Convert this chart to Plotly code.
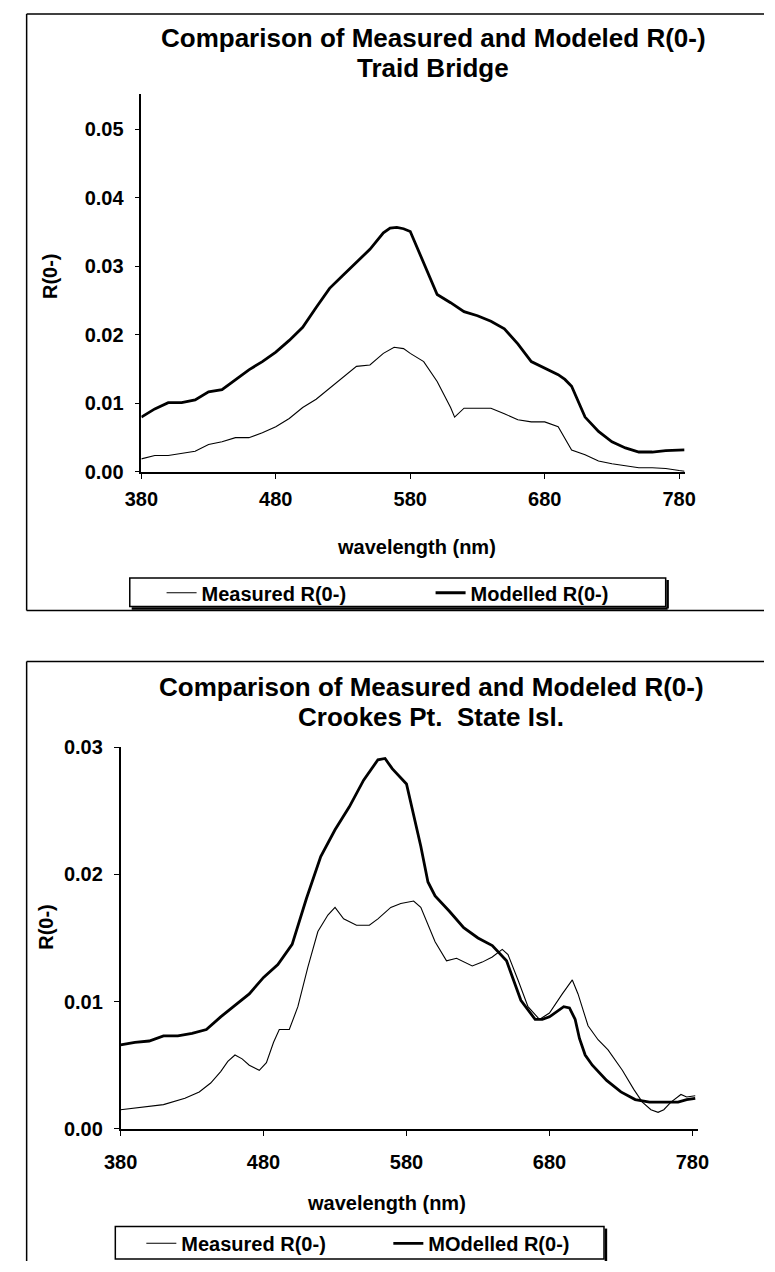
import plotly.graph_objects as go

# ---------------- data ----------------
# Top chart: Traid Bridge
wl_top_meas = [380, 390, 400, 410, 420, 430, 440, 450, 460, 470, 480, 490, 500, 510, 520, 530, 540, 550,
               560, 568, 575, 580, 590, 600, 610, 613, 620, 630, 640, 650, 660, 670, 680, 690, 700, 710,
               720, 730, 740, 750, 760, 770, 780, 784]
top_meas = [0.0019, 0.0024, 0.0024, 0.0027, 0.0030, 0.0040, 0.0044, 0.0050, 0.0050, 0.0057, 0.0066, 0.0078,
            0.0094, 0.0106, 0.0122, 0.0137, 0.0154, 0.0156, 0.0173, 0.0182, 0.0180, 0.0173, 0.0161, 0.0132,
            0.0094, 0.0080, 0.0093, 0.0093, 0.0093, 0.0085, 0.0076, 0.0073, 0.0073, 0.0066, 0.0032, 0.0025,
            0.0016, 0.0012, 0.0009, 0.0006, 0.0006, 0.0005, 0.0002, 0.0001]

wl_top_mod = [380, 390, 400, 410, 420, 430, 440, 450, 460, 470, 480, 490, 500, 510, 520, 530, 540, 550,
              560, 565, 570, 575, 580, 590, 600, 610, 620, 630, 640, 650, 660, 670, 680, 690, 695, 700,
              710, 720, 730, 740, 750, 760, 770, 780, 784]
top_mod = [0.0080, 0.0092, 0.0101, 0.0101, 0.0105, 0.0117, 0.0120, 0.0135, 0.0149, 0.0161, 0.0175, 0.0192,
           0.0211, 0.0240, 0.0268, 0.0287, 0.0306, 0.0325, 0.0349, 0.0356, 0.0357, 0.0355, 0.0351, 0.0304,
           0.0259, 0.0247, 0.0234, 0.0228, 0.0220, 0.0209, 0.0187, 0.0161, 0.0151, 0.0142, 0.0135, 0.0125,
           0.0080, 0.0059, 0.0044, 0.0035, 0.0029, 0.0029, 0.0031, 0.0032, 0.0032]

# Bottom chart: Crookes Pt. State Isl.
wl_bot_meas = [380, 395, 410, 425, 435, 443, 450, 455, 460, 465, 470, 477, 482, 487, 491, 498, 504, 511,
               518, 525, 530, 536, 545, 554, 560, 569, 576, 585, 590, 600, 608, 615, 620, 626, 633, 640,
               647, 651, 658, 665, 673, 680, 689, 696, 700, 707, 714, 721, 731, 739, 745, 751, 756, 760,
               765, 772, 776, 782]
bot_meas = [0.0015, 0.0017, 0.0019, 0.0024, 0.0029, 0.0036, 0.0045, 0.0053, 0.0058, 0.0055, 0.0050, 0.0046,
            0.0052, 0.0068, 0.0078, 0.0078, 0.0096, 0.0127, 0.0155, 0.0168, 0.0174, 0.0165, 0.0160, 0.0160,
            0.0165, 0.0174, 0.0177, 0.0179, 0.0174, 0.0147, 0.0132, 0.0134, 0.0131, 0.0128, 0.0131, 0.0135,
            0.0141, 0.0137, 0.0117, 0.0096, 0.0086, 0.0091, 0.0106, 0.0117, 0.0106, 0.0081, 0.0070, 0.0062,
            0.0046, 0.0031, 0.0021, 0.0015, 0.0013, 0.0015, 0.0021, 0.0027, 0.0025, 0.0026]

wl_bot_mod = [380, 390, 400, 410, 420, 430, 440, 450, 460, 470, 480, 490, 500, 510, 520, 530, 540, 550,
              560, 565, 570, 580, 590, 595, 600, 610, 620, 630, 640, 650, 660, 670, 675, 680, 690, 694,
              698, 701, 705, 710, 720, 730, 740, 750, 760, 770, 776, 782]
bot_mod = [0.0066, 0.0068, 0.0069, 0.0073, 0.0073, 0.0075, 0.0078, 0.0088, 0.0097, 0.0106, 0.0119, 0.0129,
           0.0145, 0.0181, 0.0214, 0.0235, 0.0253, 0.0274, 0.0290, 0.0291, 0.0283, 0.0271, 0.0222, 0.0194,
           0.0183, 0.0171, 0.0158, 0.0150, 0.0144, 0.0132, 0.0101, 0.0086, 0.0086, 0.0088, 0.0096, 0.0095,
           0.0086, 0.0071, 0.0058, 0.0050, 0.0038, 0.0029, 0.0023, 0.0021, 0.0021, 0.0021, 0.0023, 0.0024]

x_ticks = [380, 480, 580, 680, 780]
top_title = ["Comparison of Measured and Modeled R(0-)", "Traid Bridge"]
bot_title = ["Comparison of Measured and Modeled R(0-)", "Crookes Pt.\u00a0 State Isl."]
top_names = ["Measured R(0-)", "Modelled R(0-)"]
bot_names = ["Measured R(0-)", "MOdelled R(0-)"]
x_label = "wavelength (nm)"
y_label = "R(0-)"

# ---------------- layout helpers (pixels -> paper) ----------------
W, H = 775, 1272
FONT = "Liberation Sans, Arial, sans-serif"


def px(x):
    return x / W


def py(y):
    return 1 - y / H


X_MAX = 784
# top plot geometry
T_X0, T_NM = 129, 1.395
T_Y0, T_PER = 469, 6970.0
T_YMAX = 0.0551
# bottom plot geometry
B_X0, B_NM = 107.5, 1.483
B_Y0, B_PER = 1137.5, 12950.0
B_YMAX = 0.03

fig = go.Figure()

fig.add_trace(go.Scatter(x=wl_top_meas, y=top_meas, mode="lines", name=top_names[0],
                         line=dict(color="black", width=1.1), xaxis="x", yaxis="y", legend="legend"))
fig.add_trace(go.Scatter(x=wl_top_mod, y=top_mod, mode="lines", name=top_names[1],
                         line=dict(color="black", width=2.8), xaxis="x", yaxis="y", legend="legend"))
fig.add_trace(go.Scatter(x=wl_bot_meas, y=bot_meas, mode="lines", name=bot_names[0],
                         line=dict(color="black", width=1.1), xaxis="x2", yaxis="y2", legend="legend2"))
fig.add_trace(go.Scatter(x=wl_bot_mod, y=bot_mod, mode="lines", name=bot_names[1],
                         line=dict(color="black", width=2.8), xaxis="x2", yaxis="y2", legend="legend2"))

tickfont = dict(family=FONT, size=20, color="black", weight="bold")
axis_common = dict(showline=True, linecolor="black", ticks="outside", ticklen=5,
                   tickwidth=1.2, tickcolor="black", showgrid=False, zeroline=False, tickfont=tickfont,
                   fixedrange=True)

fig.update_layout(
    width=W, height=H, margin=dict(l=0, r=0, t=0, b=0),
    paper_bgcolor="white", plot_bgcolor="white",
    xaxis=dict(domain=[px(T_X0), px(T_X0 + (X_MAX - 380) * T_NM)], range=[380, X_MAX],
               tickvals=x_ticks, anchor="y", ticklabelstandoff=3, linewidth=2.2, **axis_common),
    yaxis=dict(domain=[py(T_Y0), py(T_Y0 - T_YMAX * T_PER)], range=[0, T_YMAX], dtick=0.01,
               tickformat=".2f", anchor="x", ticklabelstandoff=7, linewidth=1.5, **axis_common),
    xaxis2=dict(domain=[px(B_X0), px(B_X0 + (X_MAX - 380) * B_NM)], range=[380, X_MAX],
                tickvals=x_ticks, anchor="y2", ticklabelstandoff=9, linewidth=1.5, **axis_common),
    yaxis2=dict(domain=[py(B_Y0), py(B_Y0 - B_YMAX * B_PER)], range=[0, B_YMAX], dtick=0.01,
                tickformat=".2f", anchor="x2", ticklabelstandoff=7, linewidth=1.5, **axis_common),
    legend=dict(orientation="h", x=px(150), y=py(592), xanchor="left", yanchor="middle",
                bgcolor="rgba(0,0,0,0)", borderwidth=0, entrywidth=224, entrywidthmode="pixels",
                font=dict(family=FONT, size=20, color="black", weight="bold")),
    legend2=dict(orientation="h", x=px(129), y=py(1254), xanchor="left", yanchor="middle",
                 bgcolor="rgba(0,0,0,0)", borderwidth=0, entrywidth=202, entrywidthmode="pixels",
                 font=dict(family=FONT, size=20, color="black", weight="bold")),
    showlegend=True,
)

ann_font_title = dict(family=FONT, size=26, color="black", weight="bold")
ann_font = dict(family=FONT, size=20, color="black", weight="bold")
annotations = [
    dict(text=top_title[0], x=px(432), y=py(27), font=ann_font_title),
    dict(text=top_title[1], x=px(432), y=py(58), font=ann_font_title),
    dict(text=bot_title[0], x=px(430), y=py(688), font=ann_font_title),
    dict(text=bot_title[1], x=px(430), y=py(718), font=ann_font_title),
    dict(text=y_label, x=px(35), y=py(270), textangle=-90, font=ann_font),
    dict(text=y_label, x=px(30), y=py(932), textangle=-90, font=ann_font),
    dict(text=x_label, x=px(414), y=py(545), font=ann_font),
    dict(text=x_label, x=px(383), y=py(1213), font=ann_font),
]
for a in annotations:
    a.update(xref="paper", yref="paper", showarrow=False, xanchor="center", yanchor="middle")
fig.update_layout(annotations=annotations)


def line(x0, y0, x1, y1, w=1.5, color="black"):
    return dict(type="line", xref="paper", yref="paper", x0=px(x0), y0=py(y0), x1=px(x1), y1=py(y1),
                line=dict(color=color, width=w))


def rect(x0, y0, x1, y1, w=1.5):
    return dict(type="rect", xref="paper", yref="paper", x0=px(x0), y0=py(y0), x1=px(x1), y1=py(y1),
                line=dict(color="black", width=w), fillcolor="rgba(0,0,0,0)", layer="below")


shapes = [
    # outer frames
    line(10, 3, 775, 3), line(10, 3, 10, 610), line(10, 610, 775, 610),
    line(10, 662, 775, 662), line(10, 662, 10, 1272),
    # legend boxes with shadow
    rect(117, 577, 673, 606), line(675, 579, 675, 608, 2.5), line(119, 608, 675, 608, 2.5),
    rect(102, 1237, 609, 1270), line(611, 1239, 611, 1272, 2.5),
]
fig.update_layout(shapes=shapes)

fig.write_html("out.html")
